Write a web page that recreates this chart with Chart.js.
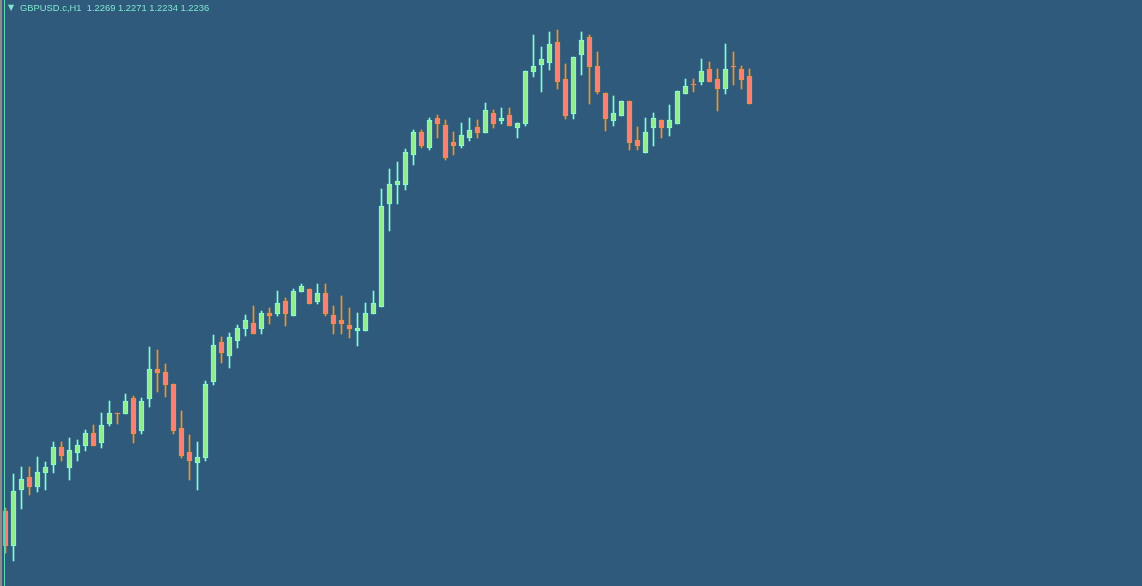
<!DOCTYPE html>
<html>
<head>
<meta charset="utf-8">
<title>GBPUSD.c,H1</title>
<script src="https://cdn.jsdelivr.net/npm/chart.js@4.4.0/dist/chart.umd.min.js"></script>
<style>
  html, body { margin: 0; padding: 0; background: #2f5a7c; overflow: hidden; }
  #wrap { position: relative; width: 1142px; height: 586px; }
  #edge { position: absolute; left: 0; top: 0; width: 2px; height: 586px; background: #8c8c8c; z-index: 3; }
  #sep { position: absolute; left: 4px; top: 0; width: 1px; height: 586px; background: #5fd9b6; z-index: 3; }
  #arrow { position: absolute; left: 8px; top: 3px; font: 8px "DejaVu Sans", sans-serif; color: #7fe6cf; z-index: 3; }
  #title { position: absolute; left: 20px; top: 2px; font: 9.4px "Liberation Sans", Arial, sans-serif; color: #7fe6cf; white-space: pre; z-index: 3; }
</style>
</head>
<body>
<div id="wrap">
  <canvas id="candles"></canvas>
  <div id="edge"></div>
  <div id="sep"></div>
  <div id="arrow">▼</div>
  <div id="title">GBPUSD.c,H1  1.2269 1.2271 1.2234 1.2236</div>
</div>
<script>
// H1 bars, oldest first
const opens = [
  1.1828, 1.1793, 1.1849, 1.1862, 1.1852, 1.1866, 1.1874, 1.1892, 1.1871, 1.1886,
  1.1893, 1.1906, 1.1896, 1.1915, 1.1926, 1.1925, 1.1941, 1.1908, 1.1940, 1.1970,
  1.1967, 1.1955, 1.1911, 1.1887, 1.1876, 1.1881, 1.1957, 1.1997, 1.1983, 1.1998,
  1.2010, 1.2016, 1.2010, 1.2026, 1.2025, 1.2038, 1.2023, 1.2047, 1.2050, 1.2037,
  1.2046, 1.2024, 1.2019, 1.2014, 1.2008, 1.2008, 1.2025, 1.2032, 1.2135, 1.2154,
  1.2154, 1.2184, 1.2207, 1.2191, 1.2221, 1.2214, 1.2197, 1.2193, 1.2201, 1.2212,
  1.2206, 1.2226, 1.2218, 1.2224, 1.2211, 1.2215, 1.2267, 1.2274, 1.2276, 1.2297,
  1.2260, 1.2225, 1.2284, 1.2302, 1.2273, 1.2246, 1.2218, 1.2223, 1.2238, 1.2199,
  1.2186, 1.2211, 1.2219, 1.2211, 1.2215, 1.2245, 1.2255, 1.2257, 1.2270, 1.2260,
  1.2250, 1.2273, 1.2270, 1.2263
];
const highs = [
  1.1831, 1.1865, 1.1872, 1.1872, 1.1882, 1.1877, 1.1897, 1.1897, 1.1901, 1.1899,
  1.1909, 1.1914, 1.1926, 1.1938, 1.1926, 1.1945, 1.1943, 1.1941, 1.1992, 1.1989,
  1.1975, 1.1955, 1.1928, 1.1904, 1.1897, 1.1958, 1.2004, 1.2002, 1.2006, 1.2014,
  1.2024, 1.2033, 1.2028, 1.2031, 1.2048, 1.2041, 1.2050, 1.2055, 1.2050, 1.2055,
  1.2055, 1.2033, 1.2043, 1.2031, 1.2026, 1.2036, 1.2048, 1.2150, 1.2170, 1.2177,
  1.2190, 1.2209, 1.2209, 1.2221, 1.2224, 1.2219, 1.2207, 1.2216, 1.2221, 1.2219,
  1.2236, 1.2229, 1.2231, 1.2231, 1.2216, 1.2268, 1.2304, 1.2292, 1.2307, 1.2309,
  1.2275, 1.2282, 1.2307, 1.2304, 1.2287, 1.2246, 1.2243, 1.2238, 1.2238, 1.2212,
  1.2221, 1.2226, 1.2219, 1.2234, 1.2248, 1.2260, 1.2260, 1.2280, 1.2277, 1.2270,
  1.2295, 1.2287, 1.2273, 1.2270
];
const lows = [
  1.1786, 1.1778, 1.1830, 1.1844, 1.1847, 1.1849, 1.1866, 1.1878, 1.1859, 1.1878,
  1.1888, 1.1893, 1.1891, 1.1913, 1.1915, 1.1925, 1.1896, 1.1905, 1.1932, 1.1947,
  1.1942, 1.1905, 1.1881, 1.1859, 1.1849, 1.1878, 1.1954, 1.1976, 1.1971, 1.1991,
  1.2003, 1.2005, 1.2005, 1.2015, 1.2023, 1.2013, 1.2023, 1.2047, 1.2035, 1.2035,
  1.2023, 1.2005, 1.2005, 1.2001, 1.1993, 1.2008, 1.2025, 1.2032, 1.2108, 1.2135,
  1.2149, 1.2174, 1.2191, 1.2189, 1.2201, 1.2179, 1.2184, 1.2191, 1.2198, 1.2201,
  1.2206, 1.2211, 1.2215, 1.2213, 1.2201, 1.2213, 1.2262, 1.2247, 1.2269, 1.2250,
  1.2220, 1.2220, 1.2264, 1.2235, 1.2245, 1.2208, 1.2213, 1.2223, 1.2189, 1.2189,
  1.2186, 1.2193, 1.2201, 1.2203, 1.2215, 1.2245, 1.2247, 1.2254, 1.2257, 1.2228,
  1.2245, 1.2254, 1.2250, 1.2235
];
const closes = [
  1.1793, 1.1848, 1.1860, 1.1852, 1.1867, 1.1872, 1.1892, 1.1883, 1.1889, 1.1894,
  1.1906, 1.1893, 1.1914, 1.1926, 1.1925, 1.1938, 1.1905, 1.1938, 1.1970, 1.1966,
  1.1954, 1.1908, 1.1883, 1.1878, 1.1882, 1.1955, 1.1994, 1.1986, 1.2002, 1.2011,
  1.2019, 1.2005, 1.2026, 1.2023, 1.2036, 1.2025, 1.2048, 1.2053, 1.2035, 1.2046,
  1.2025, 1.2015, 1.2015, 1.2010, 1.2011, 1.2026, 1.2036, 1.2133, 1.2155, 1.2158,
  1.2187, 1.2207, 1.2193, 1.2219, 1.2215, 1.2181, 1.2193, 1.2204, 1.2209, 1.2206,
  1.2229, 1.2215, 1.2221, 1.2213, 1.2216, 1.2268, 1.2273, 1.2280, 1.2295, 1.2257,
  1.2223, 1.2282, 1.2299, 1.2272, 1.2247, 1.2220, 1.2226, 1.2238, 1.2196, 1.2193,
  1.2207, 1.2221, 1.2211, 1.2219, 1.2248, 1.2253, 1.2254, 1.2268, 1.2257, 1.2250,
  1.2270, 1.2272, 1.2259, 1.2235
];

// visible price window of the chart
const priceMin = 1.1753;
const priceMax = 1.2339;

const BULL_FILL = '#90ee90';
const BULL_LINE = '#7fffd4';
const BEAR_FILL = '#fa8072';
const BEAR_LINE = '#f59223';

document.addEventListener('DOMContentLoaded', () => {
  const canvas = document.getElementById('candles');

  const isUp = (i) => closes[i] > opens[i];

  // bodies: floating bars open..close, wicks: thin floating bars low..high
  const bodies = opens.map((o, i) => ({ x: i, y: [o, closes[i]] }));
  const wicks = lows.map((l, i) => ({ x: i, y: [l, highs[i]] }));

  new Chart(canvas.getContext('2d'), {
    type: 'bar',
    data: {
      datasets: [
        {
          label: 'body',
          data: bodies,
          barThickness: 5,
          grouped: false,
          borderWidth: 1,
          borderSkipped: false,
          backgroundColor: (c) => isUp(c.dataIndex) ? BULL_FILL : BEAR_FILL,
          borderColor: (c) => isUp(c.dataIndex) ? BULL_LINE : BEAR_LINE
        },
        {
          label: 'wick',
          data: wicks,
          barThickness: 1,
          grouped: false,
          borderWidth: 0,
          backgroundColor: (c) => isUp(c.dataIndex) ? BULL_LINE : BEAR_LINE
        }
      ]
    },
    options: {
      responsive: true,
      maintainAspectRatio: false,
      animation: false,
      layout: { padding: 0 },
      plugins: {
        legend: { display: false },
        tooltip: { enabled: false }
      },
      scales: {
        // 8 px per bar, first bar centred at x = 5.5
        x: { type: 'linear', display: false, offset: false, bounds: 'ticks', min: -0.6875, max: 142.0625 },
        y: { display: false, min: priceMin, max: priceMax }
      }
    }
  });
});
</script>
</body>
</html>
